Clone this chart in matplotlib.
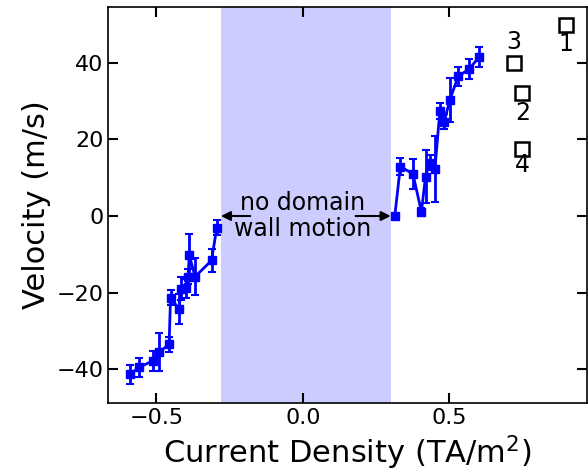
import matplotlib
matplotlib.use("Agg")
import matplotlib.pyplot as plt

# negative current branch
j_neg = [-0.590, -0.560, -0.513, -0.490, -0.457, -0.452, -0.423, -0.416,
         -0.399, -0.392, -0.388, -0.368, -0.312, -0.294]
v_neg = [-41.3, -39.5, -37.8, -35.4, -33.5, -21.3, -24.3, -19.0,
         -18.9, -15.8, -10.3, -15.8, -11.6, -3.0]
e_neg = [2.5, 2.5, 2.5, 5.0, 2.0, 2.0, 4.0, 3.0,
         2.5, 2.0, 5.5, 4.9, 2.9, 2.0]

# positive current branch
j_pos = [0.314, 0.333, 0.376, 0.405, 0.419, 0.433, 0.451, 0.468,
         0.483, 0.502, 0.531, 0.568, 0.602]
v_pos = [0.0, 12.9, 11.0, 1.1, 10.3, 13.9, 12.2, 27.4,
         24.6, 30.3, 36.5, 38.3, 41.5]
e_pos = [0.5, 2.2, 4.0, 1.0, 7.0, 2.0, 8.6, 2.2,
         2.0, 5.8, 2.5, 2.6, 2.7]

# labelled reference points
ref_x = [0.900, 0.750, 0.720, 0.750]
ref_y = [49.8, 32.0, 39.8, 17.5]
ref_labels = ["1", "2", "3", "4"]
ref_offsets = [-4.9, -5.1, 5.6, -4.2]  # label shift in m/s

no_motion = (-0.28, 0.30)

fig = plt.figure(figsize=(5.88, 4.72), dpi=100)
ax = fig.add_axes([0.184, 0.146, 0.814, 0.839])

ax.axvspan(no_motion[0], no_motion[1], color="blue", alpha=0.2, lw=0)

for j, v, e in [(j_neg, v_neg, e_neg), (j_pos, v_pos, e_pos)]:
    ax.errorbar(j, v, yerr=e, color="blue", marker="s", markersize=6,
                lw=2, elinewidth=2, capsize=3, capthick=1.5)

for x, y, lab, off in zip(ref_x, ref_y, ref_labels, ref_offsets):
    ax.plot(x, y, marker="s", markersize=10.5, mfc="none", mec="black", mew=1.8)
    ax.text(x, y + off, lab, ha="center", va="center", fontsize=17)

ax.text(0.0, 0.0, "no domain\nwall motion", ha="center", va="center",
        fontsize=17, linespacing=1.1)
arrow = dict(arrowstyle="-|>", color="black", lw=1.5, mutation_scale=14,
             shrinkA=0, shrinkB=0)
ax.annotate("", xy=(no_motion[0], 0), xytext=(-0.18, 0), arrowprops=arrow)
ax.annotate("", xy=(no_motion[1], 0), xytext=(0.18, 0), arrowprops=arrow)

ax.set_xlim(-0.665, 0.97)
ax.set_ylim(-48.8, 54.5)
ax.set_xticks([-0.5, 0.0, 0.5])
ax.set_yticks([-40, -20, 0, 20, 40])
ax.tick_params(direction="in", top=True, right=True, length=7.5, width=1.5,
               labelsize=16)
for s in ax.spines.values():
    s.set_linewidth(1.2)

ax.set_xlabel("Current Density (TA/m$^2$)", fontsize=22)
ax.set_ylabel("Velocity (m/s)", fontsize=22)

fig.savefig("out.png", dpi=100)
